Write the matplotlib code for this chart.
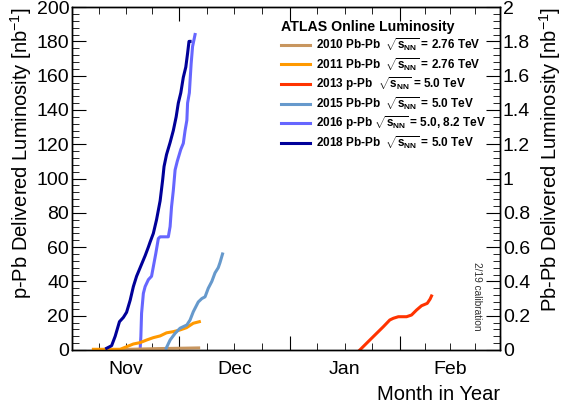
import matplotlib
matplotlib.use("Agg")
import matplotlib.pyplot as plt
from matplotlib.lines import Line2D

plt.rcParams['font.family'] = ['Liberation Sans', 'DejaVu Sans']
plt.rcParams['mathtext.fontset'] = 'custom'
plt.rcParams['mathtext.rm'] = 'Liberation Sans:bold'
plt.rcParams['mathtext.it'] = 'Liberation Sans:bold'
plt.rcParams['mathtext.bf'] = 'Liberation Sans:bold'

# x = days since 1 November
# p-Pb runs (left axis, nb^-1)
day_2013 = [80.7, 82.1, 83.5, 85.4, 87.3, 89.1, 90.1, 91.5, 93.8, 95.2, 96.6, 98.0, 99.6, 100.4, 100.8]
lumi_2013 = [0, 2.9, 5.8, 9.7, 13.6, 17.5, 18.5, 19.4, 19.4, 20.4, 23.3, 25.8, 27.2, 29.7, 31.5]

day_2016 = [19.1, 19.3, 19.5, 20.0, 20.5, 21.4, 22.3, 22.8, 23.5, 24.2, 24.7, 27.0, 27.5, 27.9,
            28.4, 28.9, 29.5, 30.5, 31.2, 31.7, 32.2, 32.4, 32.9, 33.1, 33.4, 33.8, 34.5]
lumi_2016 = [0.5, 7.8, 21.4, 33, 37, 41, 43, 48.6, 56.4, 65, 66, 66, 72, 83.5,
             93, 105, 110, 117, 120.5, 128, 134, 144, 150, 157, 167, 177, 184]

# Pb-Pb runs (right axis, nb^-1)
day_2010 = [6.0, 12.0, 18.0, 24.0, 30.0, 35.5]
lumi_2010 = [0.0, 0.002, 0.005, 0.008, 0.010, 0.012]

day_2011 = [6.0, 13.5, 15.3, 17.2, 19.1, 20.9, 22.8, 24.7, 26.5, 28.4, 30.3, 32.1, 34.0, 35.7]
lumi_2011 = [0.004, 0.004, 0.019, 0.035, 0.043, 0.058, 0.072, 0.082, 0.10, 0.107, 0.117, 0.13, 0.156, 0.165]

day_2015 = [26.4, 27.5, 28.9, 30.3, 32.2, 33.1, 34.0, 35.4, 36.4, 37.3, 38.2, 39.2, 40.1, 41.0, 41.5, 42.2]
lumi_2015 = [0.01, 0.058, 0.097, 0.127, 0.146, 0.175, 0.223, 0.28, 0.30, 0.31, 0.36, 0.40, 0.45, 0.48, 0.51, 0.56]

day_2018 = [9.7, 11.1, 12.1, 13.3, 14.4, 15.3, 16.3, 17.2, 18.1, 19.1, 20.5, 21.4, 21.9, 22.8, 23.7,
            24.7, 25.4, 25.8, 26.5, 27.5, 28.4, 29.2, 29.8, 30.5, 31.2, 31.9, 32.4, 32.8, 33.1]
lumi_2018 = [0.01, 0.025, 0.08, 0.165, 0.19, 0.22, 0.29, 0.37, 0.43, 0.48, 0.55, 0.60, 0.63, 0.68, 0.76,
             0.87, 0.99, 1.07, 1.14, 1.21, 1.28, 1.36, 1.44, 1.50, 1.59, 1.65, 1.73, 1.80, 1.80]

month_edges = [0, 30, 61, 92, 120]
month_names = ['Nov', 'Dec', 'Jan', 'Feb']

labels = [r'2010 Pb-Pb  $\sqrt{s_{NN}}$ = 2.76 TeV',
          r'2011 Pb-Pb  $\sqrt{s_{NN}}$ = 2.76 TeV',
          r'2013 p-Pb  $\sqrt{s_{NN}}$ = 5.0 TeV',
          r'2015 Pb-Pb  $\sqrt{s_{NN}}$ = 5.0 TeV',
          r'2016 p-Pb $\sqrt{s_{NN}}$ = 5.0, 8.2 TeV',
          r'2018 Pb-Pb  $\sqrt{s_{NN}}$ = 5.0 TeV']
colors = ['#c8965f', '#ff9900', '#ff3300', '#6699cc', '#6666ff', '#000099']

fig = plt.figure(figsize=(5.73, 4.16), dpi=100)
ax = fig.add_axes([0.1257, 0.1587, 0.7469, 0.8243])
ax2 = ax.twinx()

lw = 2.2
ax.plot(day_2013, lumi_2013, color=colors[2], lw=lw)
ax.plot(day_2016, lumi_2016, color=colors[4], lw=lw)
ax2.plot(day_2010, lumi_2010, color=colors[0], lw=lw)
ax2.plot(day_2011, lumi_2011, color=colors[1], lw=lw)
ax2.plot(day_2015, lumi_2015, color=colors[3], lw=lw)
ax2.plot(day_2018, lumi_2018, color=colors[5], lw=lw)

ax.set_xlim(0, 120)
ax.set_ylim(0, 200)
ax2.set_ylim(0, 2)

# month boundaries as major ticks, quarters as minor, names at month centres
ax.set_xticks(month_edges)
ax.set_xticklabels([''] * len(month_edges))
minor_pos, minor_lab = [], []
for i in range(4):
    a, b = month_edges[i], month_edges[i + 1]
    for q in (1, 2, 3):
        minor_pos.append(a + (b - a) * q / 4)
        minor_lab.append(month_names[i] if q == 2 else '')
ax.set_xticks(minor_pos, minor=True)
ax.set_xticklabels(minor_lab, minor=True)

ax.set_yticks(range(0, 201, 20))
ax.set_yticks(range(0, 201, 4), minor=True)
ax2.set_yticks([i / 10 for i in range(0, 21, 2)])
ax2.set_yticklabels(['0', '0.2', '0.4', '0.6', '0.8', '1', '1.2', '1.4', '1.6', '1.8', '2'])
ax2.set_yticks([i / 100 for i in range(0, 201, 4)], minor=True)

fs = 14
ax.tick_params(axis='x', which='both', direction='in', top=True, bottom=True, labelsize=fs, pad=8)
ax.tick_params(axis='x', which='major', length=10)
ax.tick_params(axis='x', which='minor', length=5)
ax.tick_params(axis='y', which='both', direction='in', left=True, right=False, labelsize=fs, pad=2)
ax.tick_params(axis='y', which='major', length=10)
ax.tick_params(axis='y', which='minor', length=5)
ax2.tick_params(axis='y', which='both', direction='in', right=True, labelsize=fs, pad=2)
ax2.tick_params(axis='y', which='major', length=10)
ax2.tick_params(axis='y', which='minor', length=5)
for a in (ax, ax2):
    for s in a.spines.values():
        s.set_linewidth(1.0)

ax.set_ylabel(r'p-Pb Delivered Luminosity [nb$^{\mathregular{-1}}$]', fontsize=14.5, loc='top', labelpad=2)
ax2.set_ylabel(r'Pb-Pb Delivered Luminosity [nb$^{\mathregular{-1}}$]', fontsize=14.5, loc='top', labelpad=5)
ax.set_xlabel('Month in Year', fontsize=14.5, loc='right', labelpad=5)

handles = [Line2D([], [], color=c, lw=lw) for c in colors]
leg = ax2.legend(handles, labels, loc='upper left', bbox_to_anchor=(0.463, 0.993), frameon=False,
                 prop={'size': 8.5, 'weight': 'bold'}, handlelength=2.5, handletextpad=0.5,
                 labelspacing=0.2, title='ATLAS Online Luminosity',
                 title_fontproperties={'size': 10.2, 'weight': 'bold'})
leg._legend_box.align = 'left'

ax.text(0.947, 0.157, '2/19 calibration', transform=ax.transAxes, rotation=270,
        fontsize=7.3, color='#333333', ha='center', va='center')

fig.savefig('out.png', dpi=100)
